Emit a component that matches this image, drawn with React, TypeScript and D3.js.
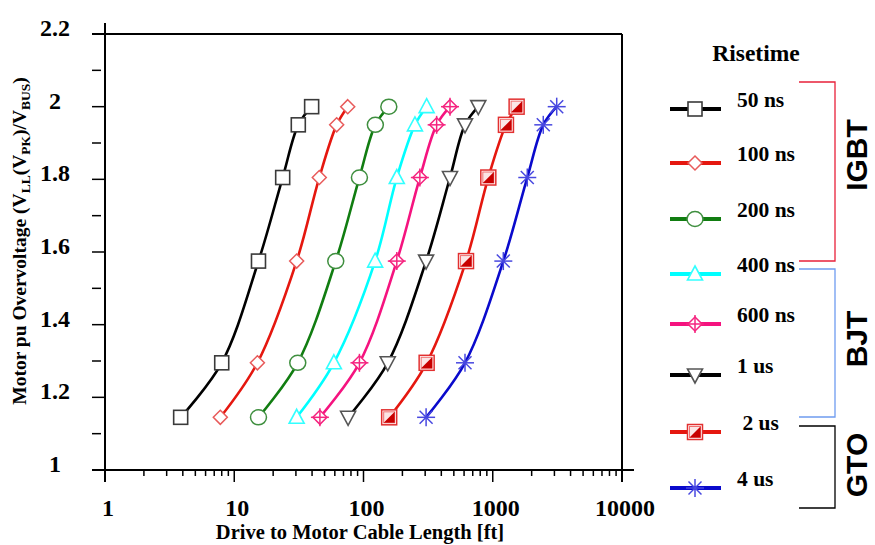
import React from "react";
import * as d3 from "d3";

// ---- data ----
const overvoltageLevels = [1.145, 1.295, 1.575, 1.805, 1.95, 2.0];
const cable50ns = [3.85, 8.0, 15.4, 23.7, 31.3, 39.7];
const cable100ns = [7.8, 15.1, 30.4, 45.5, 62, 75.5];
const cable200ns = [15.4, 31, 61, 93, 123.5, 157];
const cable400ns = [30.4, 59, 123, 181, 250, 308];
const cable600ns = [46, 93, 181, 273, 368, 467];
const cable1us = [76, 154, 305, 467, 610, 773];
const cable2us = [158, 308, 621, 924, 1265, 1530];
const cable4us = [305, 610, 1207, 1850, 2460, 3125];

const seriesLabels = ["50 ns", "100 ns", "200 ns", "400 ns", "600 ns", "1 us", " 2 us", "4 us"];
const seriesCables = [cable50ns, cable100ns, cable200ns, cable400ns, cable600ns, cable1us, cable2us, cable4us];

const xTickValues = [1, 10, 100, 1000, 10000];
const xTickLabels = ["1", "10", "100", "1000", "10000"];
const yTickValues = [1, 1.2, 1.4, 1.6, 1.8, 2, 2.2];
const yTickLabels = ["1", "1.2", "1.4", "1.6", "1.8", "2", "2.2"];
const yMinorValues = [1.1, 1.3, 1.5, 1.7, 1.9, 2.1];

const groupLabels = ["IGBT", "BJT", "GTO"];

// ---- styles / layout ----
const seriesStyles = [
  { color: "#000000", marker: "square" },
  { color: "#e5170f", marker: "diamond" },
  { color: "#117d11", marker: "circle" },
  { color: "#00ffff", marker: "triUp" },
  { color: "#f5137f", marker: "diamondCross" },
  { color: "#000000", marker: "triDown" },
  { color: "#e5170f", marker: "halfSquare" },
  { color: "#0a0acc", marker: "asterisk" },
];
const legendY = [109, 163, 219, 274, 324, 375, 432, 488];
const groupBrackets = [
  { y0: 82, y1: 261, color: "#e8203a", labelY: 155 },
  { y0: 269, y1: 417, color: "#6f9cf0", labelY: 339 },
  { y0: 426, y1: 508, color: "#000000", labelY: 465 },
];

const SERIF = "'Liberation Serif', 'Times New Roman', serif";
const SANS = "'Liberation Sans', Arial, sans-serif";

const PL = 105, PR = 622, PT = 34, PB = 470;

function Marker({ type, x, y }: { type: string; x: number; y: number }) {
  switch (type) {
    case "square":
      return <rect x={x - 7} y={y - 7} width={14} height={14} fill="#fff" stroke="#3a3a3a" strokeWidth={1.6} />;
    case "diamond":
      return <path d={`M${x},${y - 7}L${x + 7},${y}L${x},${y + 7}L${x - 7},${y}Z`} fill="#fff" stroke="#e85a5a" strokeWidth={1.5} />;
    case "circle":
      return <ellipse cx={x} cy={y} rx={8} ry={7.5} fill="#fff" stroke="#3f8f3f" strokeWidth={1.5} />;
    case "triUp":
      return <path d={`M${x},${y - 8}L${x + 7.5},${y + 6}L${x - 7.5},${y + 6}Z`} fill="#fff" stroke="#33ffff" strokeWidth={1.6} />;
    case "diamondCross":
      return (
        <g stroke="#f5247f" strokeWidth={1.5} fill="none">
          <path d={`M${x},${y - 7}L${x + 7},${y}L${x},${y + 7}L${x - 7},${y}Z`} fill="#fff" />
          <line x1={x} y1={y - 9} x2={x} y2={y + 9} />
          <line x1={x - 9} y1={y} x2={x + 9} y2={y} />
        </g>
      );
    case "triDown":
      return <path d={`M${x - 7.5},${y - 6}L${x + 7.5},${y - 6}L${x},${y + 8}Z`} fill="#fff" stroke="#555" strokeWidth={1.6} />;
    case "halfSquare":
      return (
        <g>
          <rect x={x - 7.5} y={y - 7.5} width={15} height={15} fill="#fff" stroke="#e23030" strokeWidth={1.5} />
          <rect x={x - 5.5} y={y - 5.5} width={11} height={11} fill="#fbe6e6" stroke="#f07070" strokeWidth={1} />
          <path d={`M${x + 5.5},${y - 5.5}L${x + 5.5},${y + 5.5}L${x - 5.5},${y + 5.5}Z`} fill="#c80000" />
        </g>
      );
    case "asterisk":
      return (
        <g stroke="#4848e0" strokeWidth={1.5}>
          <line x1={x} y1={y - 9} x2={x} y2={y + 9} />
          <line x1={x - 9} y1={y} x2={x + 9} y2={y} />
          <line x1={x - 6.5} y1={y - 6.5} x2={x + 6.5} y2={y + 6.5} />
          <line x1={x - 6.5} y1={y + 6.5} x2={x + 6.5} y2={y - 6.5} />
        </g>
      );
    default:
      return null;
  }
}

export default function App() {
  const x = d3.scaleLog().domain([1, 10000]).range([PL, PR]);
  const y = d3.scaleLinear().domain([1, 2.2]).range([PB, PT]);
  const line = d3
    .line<[number, number]>()
    .x((d) => x(d[0]))
    .y((d) => y(d[1]))
    .curve(d3.curveCatmullRom.alpha(0.5));

  const xMinor = x.ticks().filter((v) => !xTickValues.some((t) => Math.abs(t - v) < 1e-9));

  return (
    <svg width={875} height={545} style={{ position: "absolute", left: 0, top: 0, background: "#fff" }}>
      {/* frame */}
      <g stroke="#000" strokeWidth={2}>
        <line x1={PL - 13} y1={PT} x2={PR} y2={PT} />
        <line x1={PL - 13} y1={PB} x2={PR + 12} y2={PB} />
        <line x1={PL} y1={PT - 11} x2={PL} y2={PB + 12} />
        <line x1={PR} y1={PT} x2={PR} y2={PB + 12} />
      </g>
      {/* ticks */}
      <g stroke="#000" strokeWidth={1.5}>
        {yTickValues.map((v) => (
          <line key={"ym" + v} x1={PL - 13} x2={PL} y1={y(v)} y2={y(v)} />
        ))}
        {yMinorValues.map((v) => (
          <line key={"yn" + v} x1={PL - 13} x2={PL - 4} y1={y(v)} y2={y(v)} />
        ))}
        {xTickValues.map((v) => (
          <line key={"xm" + v} x1={x(v)} x2={x(v)} y1={PB} y2={PB + 12} />
        ))}
        {xMinor.map((v) => (
          <line key={"xn" + v} x1={x(v)} x2={x(v)} y1={PB} y2={PB + 6} />
        ))}
      </g>
      {/* tick labels */}
      <g fontFamily={SERIF} fontWeight="bold" fontSize={24} fill="#000">
        {yTickValues.map((v, i) => (
          <text key={"yl" + v} x={55} y={y(v) + 2} textAnchor="middle">
            {yTickLabels[i]}
          </text>
        ))}
        {xTickValues.map((v, i) => (
          <text key={"xl" + v} x={x(v) + 3} y={516} textAnchor="middle">
            {xTickLabels[i]}
          </text>
        ))}
      </g>
      {/* axis titles */}
      <text x={360} y={539} textAnchor="middle" fontFamily={SERIF} fontWeight="bold" fontSize={20.5}>
        Drive to Motor Cable Length [ft]
      </text>
      <text
        transform="translate(26,241) rotate(-90)"
        textAnchor="middle"
        fontFamily={SERIF}
        fontWeight="bold"
        fontSize={19.5}
      >
        <tspan>Motor pu Overvoltage (V</tspan>
        <tspan fontSize={13.5} dy={4}>LL</tspan>
        <tspan dy={-4}>(V</tspan>
        <tspan fontSize={13.5} dy={4}>PK</tspan>
        <tspan dy={-4}>)/V</tspan>
        <tspan fontSize={13.5} dy={4}>BUS</tspan>
        <tspan dy={-4}>)</tspan>
      </text>
      {/* curves */}
      {seriesCables.map((cables, i) => {
        const pts = cables.map((c, j) => [c, overvoltageLevels[j]] as [number, number]);
        return (
          <g key={"s" + i}>
            <path d={line(pts) || ""} fill="none" stroke={seriesStyles[i].color} strokeWidth={2.6} />
            {pts.map((p, j) => (
              <Marker key={j} type={seriesStyles[i].marker} x={x(p[0])} y={y(p[1])} />
            ))}
          </g>
        );
      })}
      {/* legend */}
      <text x={756} y={61} textAnchor="middle" fontFamily={SERIF} fontWeight="bold" fontSize={23.5}>
        Risetime
      </text>
      {seriesLabels.map((lab, i) => (
        <g key={"lg" + i}>
          <line x1={670} x2={721} y1={legendY[i]} y2={legendY[i]} stroke={seriesStyles[i].color} strokeWidth={4} />
          <Marker type={seriesStyles[i].marker} x={695} y={legendY[i]} />
          <text x={737} y={legendY[i] - 2} fontFamily={SERIF} fontWeight="bold" fontSize={21.5} style={{ whiteSpace: "pre" }}>
            {lab}
          </text>
        </g>
      ))}
      {/* device brackets */}
      {groupBrackets.map((b, i) => (
        <g key={"br" + i}>
          <path d={`M799,${b.y0}H835V${b.y1}H799`} fill="none" stroke={b.color} strokeWidth={1.3} />
          <text
            transform={`translate(867,${b.labelY}) rotate(-90)`}
            textAnchor="middle"
            fontFamily={SANS}
            fontWeight="bold"
            fontSize={30}
          >
            {groupLabels[i]}
          </text>
        </g>
      ))}
    </svg>
  );
}
